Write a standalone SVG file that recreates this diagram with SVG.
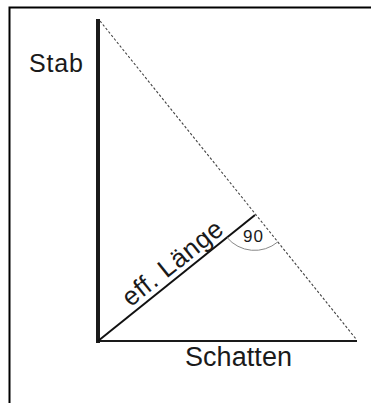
<svg xmlns="http://www.w3.org/2000/svg" width="371" height="403" viewBox="0 0 371 403">
<style>
  .lbl{font-family:"Liberation Sans",Arial,sans-serif;fill:#1a1a1a}
</style>
<rect x="0" y="0" width="371" height="403" fill="#ffffff"/>
<rect x="9.5" y="7.5" width="380" height="420" fill="none" stroke="#000" stroke-width="2"/>
<g id="connectors">
  <line x1="98" y1="19" x2="98" y2="343" stroke="#1a1a1a" stroke-width="4"/>
  <line x1="96" y1="341" x2="357" y2="341" stroke="#1a1a1a" stroke-width="2"/>
  <line x1="100" y1="21" x2="356" y2="339" stroke="#444" stroke-width="1.1" stroke-dasharray="2.5,2"/>
  <line x1="98" y1="341" x2="255" y2="215" stroke="#111" stroke-width="2"/>
  <path d="M 227 237.5 A 36 36 0 0 0 277.7 242" fill="none" stroke="#888" stroke-width="1"/>
</g>
<g id="stab"><text class="lbl" x="29" y="72" font-size="25" textLength="54">Stab</text></g>
<g id="schatten"><text class="lbl" x="185" y="366" font-size="27" textLength="107">Schatten</text></g>
<g id="efflaenge"><text class="lbl" transform="translate(130.5,307.5) rotate(-38.5)" font-size="26" textLength="121">eff. Länge</text></g>
<g id="angle"><text class="lbl" x="243" y="242" font-size="17" textLength="20">90</text></g>
</svg>
